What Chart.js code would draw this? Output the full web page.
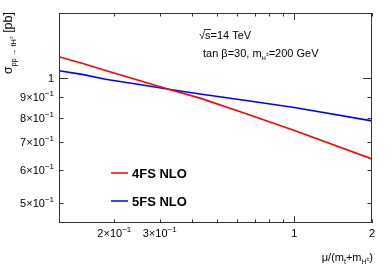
<!DOCTYPE html>
<html>
<head>
<meta charset="utf-8">
<script src="https://cdn.jsdelivr.net/npm/chart.js@4.4.1/dist/chart.umd.min.js"></script>
<style>
  html, body { margin: 0; padding: 0; background: #fff; }
</style>
</head>
<body>
<canvas id="xsec" width="392" height="266"></canvas>
<script>
// scale ratio mu/(mt+mH) and cross sections [pb]
const muRatio  = [0.122, 0.15, 0.185, 0.25, 0.325, 0.43, 0.65, 1, 2];
const sigma4FS = [1.125, 1.085, 1.042, 0.986, 0.939, 0.894, 0.820, 0.747, 0.638];
const sigma5FS = [1.041, 1.020, 0.993, 0.964, 0.939, 0.915, 0.882, 0.849, 0.788];
const seriesNames = ['4FS NLO', '5FS NLO'];

// axis ticks (log scales)
const xTicks = [0.2, 0.3, 0.4, 0.5, 0.6, 0.7, 0.8, 0.9, 1, 2];
const xLabelValues = [0.2, 0.3, 1, 2];
const xLabelTexts = [['2×10', '−1'], ['3×10', '−1'], ['1', ''], ['2', '']];
const yTicks = [0.5, 0.6, 0.7, 0.8, 0.9, 1];
const yLabelValues = [0.5, 0.6, 0.7, 0.8, 0.9, 1];
const yLabelTexts = [['5×10', '−1'], ['6×10', '−1'], ['7×10', '−1'], ['8×10', '−1'], ['9×10', '−1'], ['1', '']];

const FONT = '"Liberation Sans", Arial, sans-serif';

// text pieces: {t, size, dy, bold}
function runsWidth(ctx, runs) {
    let w = 0;
    runs.forEach(r => {
        ctx.font = (r.bold ? 'bold ' : '') + r.size + 'px ' + FONT;
        w += ctx.measureText(r.t).width;
    });
    return w;
}
function drawRuns(ctx, runs, x, y) {
    ctx.textAlign = 'left';
    ctx.textBaseline = 'alphabetic';
    let cx = x;
    runs.forEach(r => {
        ctx.font = (r.bold ? 'bold ' : '') + r.size + 'px ' + FONT;
        ctx.fillText(r.t, cx, y + (r.dy || 0));
        cx += ctx.measureText(r.t).width;
    });
    return cx;
}
function tickRuns(pair) {
    const runs = [{t: pair[0], size: 11}];
    if (pair[1]) runs.push({t: pair[1], size: 8, dy: -5});
    return runs;
}

const rootStyle = {
    id: 'rootStyle',
    afterDraw(chart) {
        const ctx = chart.ctx;
        const a = chart.chartArea;
        const xs = chart.scales.x, ys = chart.scales.y;
        ctx.save();
        ctx.fillStyle = '#000';
        ctx.strokeStyle = '#333';
        ctx.lineWidth = 1;

        // frame
        ctx.strokeRect(Math.round(a.left) + 0.5, Math.round(a.top) + 0.5,
            Math.round(a.right - a.left) - 1, Math.round(a.bottom - a.top) - 1);

        // inward ticks on all four sides
        ctx.beginPath();
        xTicks.forEach(v => {
            const px = Math.round(xs.getPixelForValue(v)) + 0.5;
            const len = v === 1 ? 7 : 3.5;
            ctx.moveTo(px, a.bottom); ctx.lineTo(px, a.bottom - len);
            ctx.moveTo(px, a.top); ctx.lineTo(px, a.top + len);
        });
        yTicks.forEach(v => {
            const py = Math.round(ys.getPixelForValue(v)) + 0.5;
            const len = v === 1 ? 9 : 4.5;
            ctx.moveTo(a.left, py); ctx.lineTo(a.left + len, py);
            ctx.moveTo(a.right, py); ctx.lineTo(a.right - len, py);
        });
        ctx.stroke();

        // tick labels
        ctx.fillStyle = '#000';
        xLabelValues.forEach((v, i) => {
            const runs = tickRuns(xLabelTexts[i]);
            const w = runsWidth(ctx, runs);
            drawRuns(ctx, runs, xs.getPixelForValue(v) - w / 2, a.bottom + 14);
        });
        yLabelValues.forEach((v, i) => {
            const runs = tickRuns(yLabelTexts[i]);
            const w = runsWidth(ctx, runs);
            drawRuns(ctx, runs, a.left - 5 - w, ys.getPixelForValue(v) + 4);
        });

        // x title, right aligned
        const xTitle = [
            {t: 'μ/(m', size: 11}, {t: 't', size: 7, dy: 3},
            {t: '+m', size: 11}, {t: 'H', size: 7, dy: 3}, {t: '±', size: 5, dy: 0},
            {t: ')', size: 11}
        ];
        drawRuns(ctx, xTitle, a.right + 1 - runsWidth(ctx, xTitle), 261);

        // y title, rotated, right aligned to top
        const yTitle = [
            {t: 'σ', size: 12}, {t: 'pp → tH', size: 7.5, dy: 4}, {t: '±', size: 5, dy: 1},
            {t: ' [pb]', size: 12.5}
        ];
        const yw = runsWidth(ctx, yTitle);
        ctx.save();
        ctx.translate(12, a.top - 1 + yw);
        ctx.rotate(-Math.PI / 2);
        drawRuns(ctx, yTitle, 0, 0);
        ctx.restore();

        // annotations
        const end = drawRuns(ctx, [{t: '√', size: 11}], 199, 39);
        ctx.beginPath();
        ctx.moveTo(end - 1, 29.5); ctx.lineTo(end + 6, 29.5);
        ctx.stroke();
        drawRuns(ctx, [{t: 's=14 TeV', size: 11}], end, 39);
        drawRuns(ctx, [
            {t: 'tan β=30, m', size: 11}, {t: 'H', size: 6, dy: 3}, {t: '±', size: 5, dy: -1},
            {t: '=200 GeV', size: 11}
        ], 203, 57);

        // legend
        const legendY = [173, 201];
        chart.data.datasets.forEach((ds, i) => {
            ctx.strokeStyle = ds.borderColor;
            ctx.lineWidth = 1.5;
            ctx.beginPath();
            ctx.moveTo(111, legendY[i]); ctx.lineTo(128, legendY[i]);
            ctx.stroke();
            ctx.fillStyle = '#000';
            drawRuns(ctx, [{t: ds.label, size: 13, bold: true}], 132, legendY[i] + 5);
        });
        ctx.restore();
    }
};

const ctx = document.getElementById('xsec').getContext('2d');
new Chart(ctx, {
    type: 'line',
    data: {
        datasets: [{
            label: seriesNames[0],
            data: muRatio.map((m, i) => ({x: m, y: sigma4FS[i]})),
            borderColor: '#ff0000',
            borderWidth: 1.6,
            pointRadius: 0,
            tension: 0,
            fill: false
        }, {
            label: seriesNames[1],
            data: muRatio.map((m, i) => ({x: m, y: sigma5FS[i]})),
            borderColor: '#0000ff',
            borderWidth: 1.6,
            pointRadius: 0,
            tension: 0,
            fill: false
        }]
    },
    options: {
        responsive: false,
        animation: false,
        devicePixelRatio: 1,
        layout: { padding: { top: 13, right: 20, left: 0, bottom: 0 } },
        plugins: { legend: { display: false }, tooltip: { enabled: false } },
        scales: {
            x: {
                type: 'logarithmic', min: 0.122, max: 2,
                ticks: { display: false }, grid: { display: false }, border: { display: false },
                afterFit: s => { s.height = 43; }
            },
            y: {
                type: 'logarithmic', min: 0.447, max: 1.434,
                ticks: { display: false }, grid: { display: false }, border: { display: false },
                afterFit: s => { s.width = 59; }
            }
        }
    },
    plugins: [rootStyle]
});
</script>
</body>
</html>
